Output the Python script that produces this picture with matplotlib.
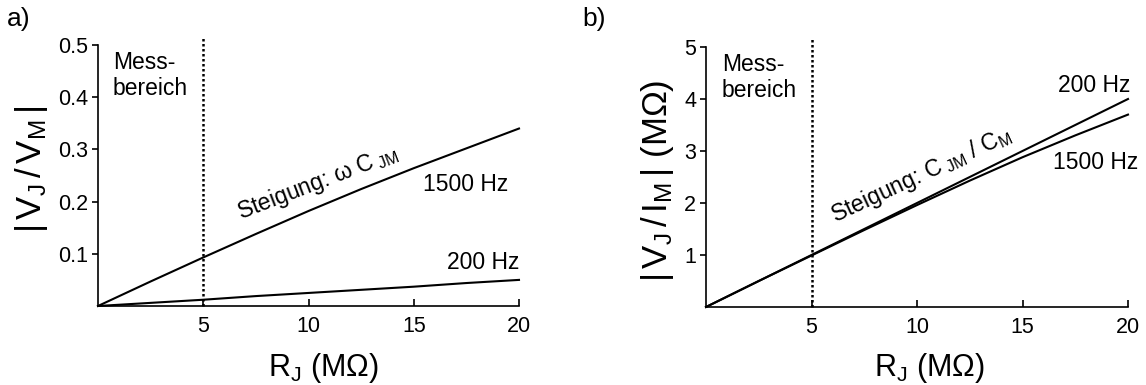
import matplotlib
matplotlib.use("Agg")
import matplotlib.pyplot as plt

plt.rcParams['font.family'] = ['Liberation Sans', 'DejaVu Sans']
plt.rcParams['mathtext.fontset'] = 'custom'
plt.rcParams['mathtext.rm'] = 'Liberation Sans'
plt.rcParams['mathtext.it'] = 'Liberation Sans:italic'

# R_J in MOhm
r_j = [0, 2.5, 5, 7.5, 10, 12.5, 15, 17.5, 20]

# a) |V_J / V_M|
vv_1500 = [0, 0.047, 0.093, 0.138, 0.182, 0.224, 0.264, 0.302, 0.340]
vv_200 = [0, 0.006, 0.012, 0.019, 0.025, 0.031, 0.037, 0.044, 0.050]

# b) |V_J / I_M| in MOhm
vi_200 = [0, 0.5, 1.0, 1.5, 2.0, 2.5, 3.0, 3.5, 4.0]
vi_1500 = [0, 0.5, 0.99, 1.48, 1.96, 2.43, 2.88, 3.30, 3.70]

mess_grenze = 5
x_ticks = [5, 10, 15, 20]
y_ticks_a = [0.1, 0.2, 0.3, 0.4, 0.5]
y_ticks_b = [1, 2, 3, 4, 5]

W, H = 1146, 385
fig = plt.figure(figsize=(W / 100, H / 100), dpi=100)


def make_axes(left, right, top, bottom):
    return fig.add_axes([left / W, 1 - bottom / H, (right - left) / W, (bottom - top) / H])


def style(ax, ymax, yticks, ylabels):
    ax.set_xlim(0, 20)
    ax.set_ylim(0, ymax)
    ax.spines['top'].set_visible(False)
    ax.spines['right'].set_visible(False)
    for s in ('left', 'bottom'):
        ax.spines[s].set_linewidth(1.2)
    ax.set_xticks(x_ticks)
    ax.set_xticklabels([str(t) for t in x_ticks])
    ax.set_yticks(yticks)
    ax.set_yticklabels(ylabels)
    ax.tick_params(axis='x', direction='in', length=5, width=1.2, labelsize=15.5, pad=7)
    ax.tick_params(axis='y', direction='out', length=4, width=1.2, labelsize=15.5, pad=3)
    ax.plot([mess_grenze, mess_grenze], [0, ymax * 1.03], color='black', lw=1.8,
            ls=(0, (1, 1)), clip_on=False)


line_kw = dict(color='black', lw=1.5, clip_on=False)
txt = 16.5

# ---- a)
ax_a = make_axes(98, 519, 45, 306)
style(ax_a, 0.5, y_ticks_a, ['0.1', '0.2', '0.3', '0.4', '0.5'])
ax_a.plot(r_j, vv_1500, **line_kw)
ax_a.plot(r_j, vv_200, **line_kw)
ax_a.text(0.7, 0.488, 'Mess-\nbereich', fontsize=txt, va='top', ha='left', linespacing=1.15)
ax_a.text(19.5, 0.220, '1500 Hz', fontsize=txt, ha='right', va='baseline')
ax_a.text(20, 0.071, '200 Hz', fontsize=txt, ha='right', va='baseline')
ax_a.text(6.75, 0.165, r'Steigung: ω C$_\mathregular{\ JM}$', fontsize=txt, ha='left',
          va='baseline', rotation=21, rotation_mode='anchor')

# ---- b)
ax_b = make_axes(706, 1128, 47, 307)
style(ax_b, 5, y_ticks_b, ['1', '2', '3', '4', '5'])
ax_b.plot(r_j, vi_200, **line_kw)
ax_b.plot(r_j, vi_1500, **line_kw)
ax_b.text(0.76, 4.88, 'Mess-\nbereich', fontsize=txt, va='top', ha='left', linespacing=1.15)
ax_b.text(20.1, 4.13, '200 Hz', fontsize=txt, ha='right', va='baseline')
ax_b.text(20.5, 2.65, '1500 Hz', fontsize=txt, ha='right', va='baseline')
ax_b.text(6.1, 1.63, r'Steigung: C$_\mathregular{\ JM}$ / C$_\mathregular{M}$', fontsize=txt,
          ha='left', va='baseline', rotation=25, rotation_mode='anchor')

# axis labels and panel letters
fig.text(31 / W, 1 - 169 / H, r'|$\,$V$_\mathregular{J}$$\,$/$\,$V$_\mathregular{M}$$\,$|', fontsize=25,
         rotation=90, ha='center', va='center')
fig.text(657 / W, 1 - 181 / H, r'|$\,$V$_\mathregular{J}$$\,$/$\,$I$_\mathregular{M}$$\,$| (MΩ)', fontsize=25,
         rotation=90, ha='center', va='center')
fig.text(324 / W, 1 - 376 / H, r'R$_\mathregular{J}$ (MΩ)', fontsize=22, ha='center', va='baseline')
fig.text(930 / W, 1 - 376 / H, r'R$_\mathregular{J}$ (MΩ)', fontsize=22, ha='center', va='baseline')
fig.text(7 / W, 1 - 26 / H, 'a)', fontsize=19, ha='left', va='baseline')
fig.text(582 / W, 1 - 26 / H, 'b)', fontsize=19, ha='left', va='baseline')

fig.savefig('out.png', dpi=100)
